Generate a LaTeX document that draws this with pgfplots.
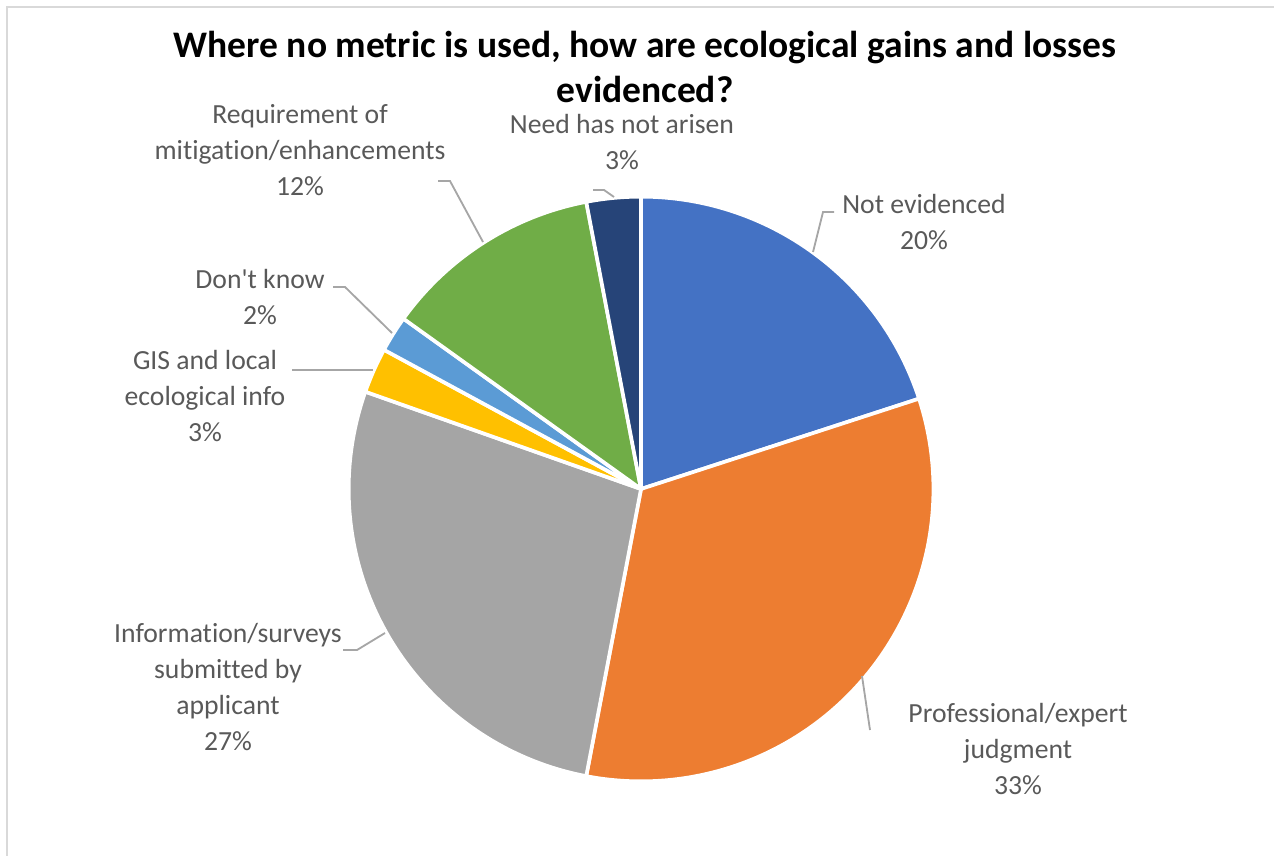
\documentclass[border=0pt]{standalone}
\usepackage{pgfplots}
\usepackage{pgfplotstable}
\pgfplotsset{compat=1.18}
\usepackage{fontspec}
\setmainfont{Carlito}[Ligatures={TeXOff,NoCommon}]
\definecolor{c0}{HTML}{4472C4}
\definecolor{c1}{HTML}{ED7D31}
\definecolor{c2}{HTML}{A5A5A5}
\definecolor{c3}{HTML}{FFC000}
\definecolor{c4}{HTML}{5B9BD5}
\definecolor{c5}{HTML}{70AD47}
\definecolor{c6}{HTML}{264478}
\definecolor{labelgray}{HTML}{595959}
\definecolor{leadergray}{HTML}{A6A6A6}
\definecolor{framegray}{HTML}{D9D9D9}

\pgfplotstableread[col sep=comma]{
slice,value
Not evidenced,20.0
Professional/expert judgment,33.0
Information/surveys submitted by applicant,27.4
GIS and local ecological info,2.5
Don't know,2.0
Requirement of mitigation/enhancements,12.1
Need has not arisen,3.0
}\piedata

\begin{document}
\begin{tikzpicture}
\begin{axis}[
  x=0.6pt, y=0.6pt,
  xmin=0, xmax=1274, ymin=0, ymax=856,
  y dir=reverse,
  hide axis, scale only axis, clip=false,
]
% frame
\draw[framegray, line width=1.3pt] (axis cs:1274,7) -- (axis cs:7,7) -- (axis cs:7,856);

% pie slices from the table
\pgfplotstablegetrowsof{\piedata}
\pgfmathtruncatemacro\lastrow{\pgfplotsretval-1}
\def\cum{0}
\pgfplotsforeachungrouped \i in {0,...,\lastrow}{%
  \pgfplotstablegetelem{\i}{value}\of\piedata
  \let\v\pgfplotsretval
  \pgfmathsetmacro\aa{90-3.6*\cum}%
  \pgfmathsetmacro\cum{\cum+\v}%
  \pgfmathsetmacro\bb{90-3.6*\cum}%
  \edef\temp{\noexpand\fill[c\i, draw=white, line width=2.2pt, line join=round]
    (axis cs:641,489) -- ++(\aa:175.4pt) arc[start angle=\aa, end angle=\bb, radius=175.4pt] -- cycle;}%
  \temp
}

% leader lines
\begin{scope}[leadergray, line width=1.1pt]
\draw (axis cs:813,252) -- (axis cs:823,212) -- (axis cs:834,212);
\draw (axis cs:862,676) -- (axis cs:870,730);
\draw (axis cs:385,633) -- (axis cs:357,650) -- (axis cs:343,650);
\draw (axis cs:292,370) -- (axis cs:373,370);
\draw (axis cs:333,287) -- (axis cs:345,287) -- (axis cs:392,333);
\draw (axis cs:438,181) -- (axis cs:450,181) -- (axis cs:483,242);
\draw (axis cs:593,190) -- (axis cs:604,190) -- (axis cs:614,197);
\end{scope}

% labels
\begin{scope}[every node/.style={align=center, text=labelgray, font=\fontsize{16.6}{21.6}\selectfont}]
\node at (axis cs:924,222) {Not evidenced\\20\%};
\node at (axis cs:1018,749) {Professional/expert\\judgment\\33\%};
\node at (axis cs:228,687) {Information/surveys\\submitted by\\applicant\\27\%};
\node at (axis cs:205,396) {GIS and local\\ecological info\\3\%};
\node at (axis cs:260,297) {Don't know\\2\%};
\node at (axis cs:300,150) {Requirement of\\mitigation/enhancements\\12\%};
\node at (axis cs:622,142) {Need has not arisen\\3\%};
\end{scope}

% title
\node[align=center, font=\fontsize{22.5}{27}\selectfont\bfseries] at (axis cs:645,67)
  {Where no metric is used, how are ecological gains and losses\\evidenced?};
\end{axis}
\pgfresetboundingbox
\path (0,0) rectangle (764.4pt,513.6pt);
\end{tikzpicture}
\end{document}
